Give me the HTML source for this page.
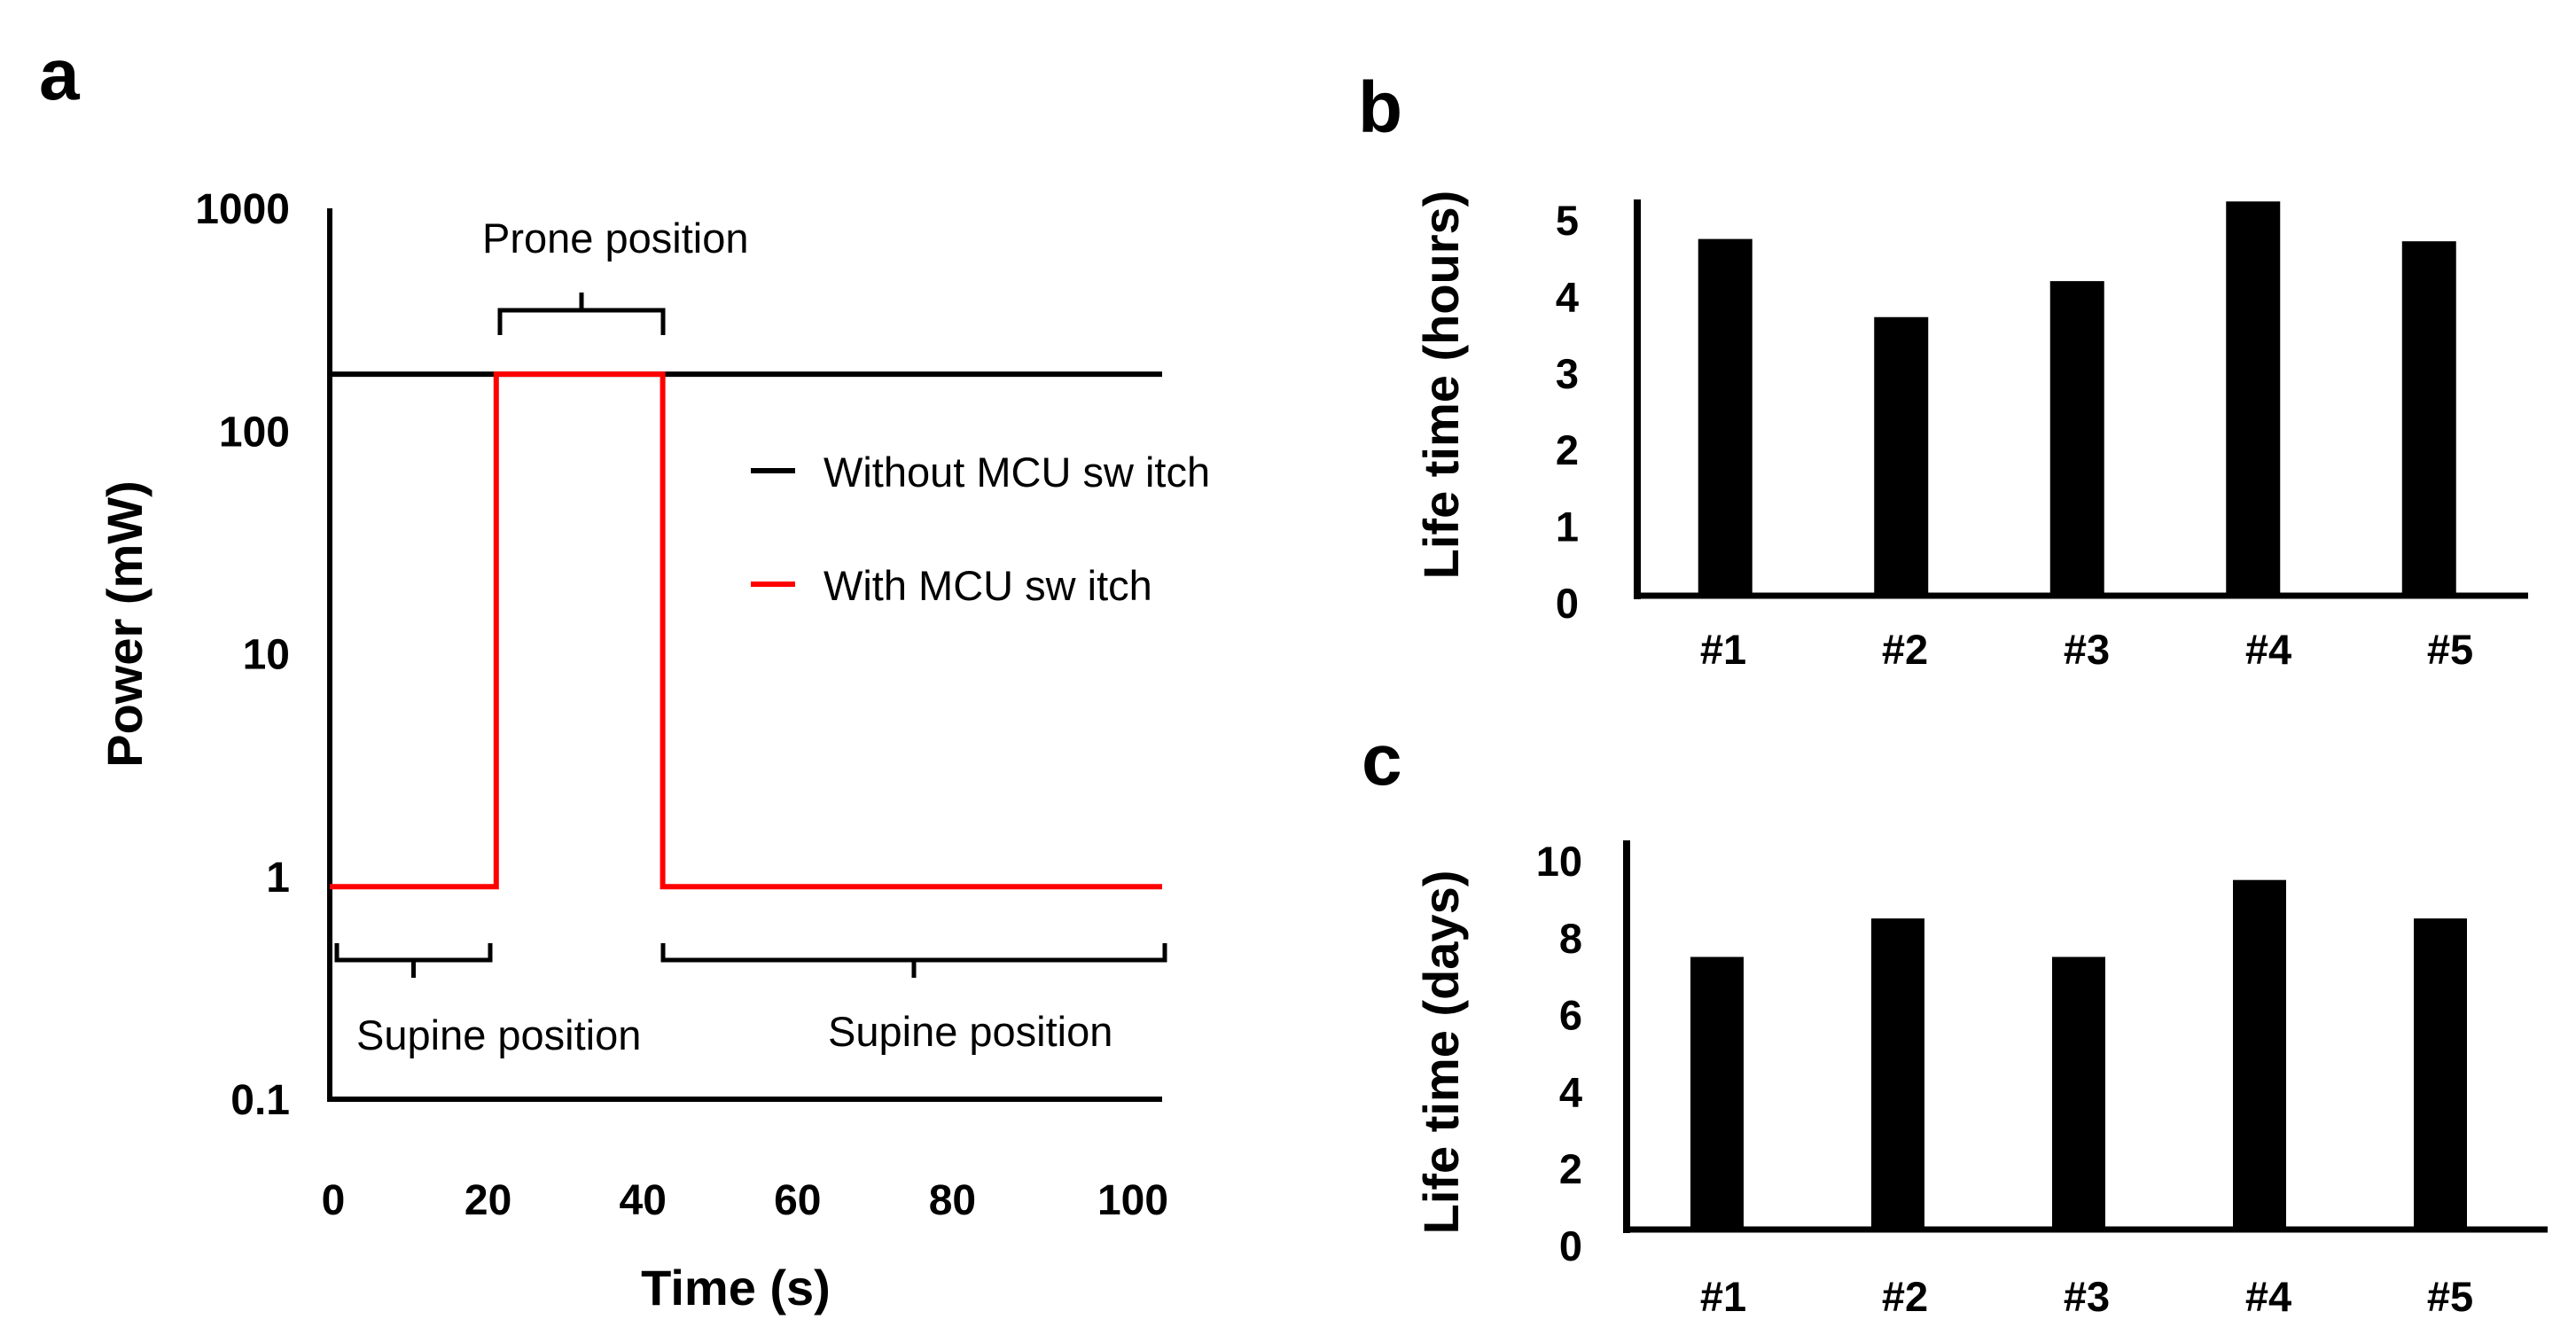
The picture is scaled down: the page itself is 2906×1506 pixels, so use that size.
<!DOCTYPE html>
<html><head><meta charset="utf-8"><style>
html,body{margin:0;padding:0;background:#fff}
svg{display:block;font-family:"Liberation Sans",Arial,sans-serif}
</style></head><body>
<svg id="fig" width="2906" height="1506" viewBox="0 0 2906 1506" xmlns="http://www.w3.org/2000/svg">
<rect width="2906" height="1506" fill="#fff"/>
<text x="44" y="112" font-size="82" font-weight="bold">a</text>
<text x="1532" y="149" font-size="82" font-weight="bold">b</text>
<text x="1536" y="885" font-size="82" font-weight="bold">c</text>
<g id="pa"></g>
<g id="pb"></g>
<g id="pc"></g>
</svg>
<script>
// Panel a data
const aTimeTicks = [0, 20, 40, 60, 80, 100];
const aPowerTicks = [1000, 100, 10, 1, 0.1];
const aPowerTickLabels = ["1000", "100", "10", "1", "0.1"];
const aWithoutTime = [0, 100];
const aWithoutPower = [180, 180];
const aWithTime = [0, 20, 20, 40, 40, 100];
const aWithPower = [0.9, 0.9, 180, 180, 0.9, 0.9];
// Panel b data
const bCategories = ["#1", "#2", "#3", "#4", "#5"];
const bValues = [4.75, 3.73, 4.2, 5.24, 4.72];
const bTicks = [0, 1, 2, 3, 4, 5];
// Panel c data
const cCategories = ["#1", "#2", "#3", "#4", "#5"];
const cValues = [7.5, 8.5, 7.5, 9.5, 8.5];
const cTicks = [0, 2, 4, 6, 8, 10];

const NS = "http://www.w3.org/2000/svg";
function mk(parent, tag, attrs, text) {
  const e = document.createElementNS(NS, tag);
  for (const k in attrs) e.setAttribute(k, attrs[k]);
  if (text !== undefined) e.textContent = text;
  parent.appendChild(e);
  return e;
}

// ---------- Panel a ----------
const pa = document.getElementById('pa');
const ax0 = 372, ax1 = 1311, ayTop = 235, ayBot = 1240;
const xA = t => ax0 + (t - 0) / 100 * (ax1 - ax0);
const yA = p => ayTop + (3 - Math.log10(p)) / 4 * (ayBot - ayTop);
const xLabA = t => t === 100 ? 1278 : 376 + t * 8.73;

let e;
e = mk(pa, 'line', {x1: ax0, y1: ayTop, x2: ax0, y2: ayBot + 3, stroke: '#000', 'stroke-width': 6});


e = mk(pa, 'line', {x1: ax0 - 3, y1: ayBot, x2: ax1, y2: ayBot, stroke: '#000', 'stroke-width': 6});



aPowerTicks.forEach((p, i) => {
  e = mk(pa, 'text', {x: 327, y: yA(p) + 17, 'font-size': 48, 'font-weight': 'bold', 'text-anchor': 'end'}, aPowerTickLabels[i]);
  
  
});
aTimeTicks.forEach(t => {
  e = mk(pa, 'text', {x: xLabA(t), y: 1370, 'font-size': 48, 'font-weight': 'bold', 'text-anchor': 'middle'}, String(t));
  
  
});

function linePts(ts, ps) { return ts.map((t, i) => xA(t) + ',' + yA(ps[i])).join(' '); }
e = mk(pa, 'polyline', {points: linePts(aWithoutTime, aWithoutPower), fill: 'none', stroke: '#000', 'stroke-width': 6});


e = mk(pa, 'polyline', {points: linePts(aWithTime, aWithPower), fill: 'none', stroke: '#ff0000', 'stroke-width': 6, 'stroke-linejoin': 'miter'});



e = mk(pa, 'text', {x: 140, y: 704, 'font-size': 56, 'font-weight': 'bold', 'text-anchor': 'middle', transform: 'rotate(-90 140 704)', dy: 20}, 'Power (mW)');


e = mk(pa, 'text', {x: 830, y: 1472, 'font-size': 56, 'font-weight': 'bold', 'text-anchor': 'middle'}, 'Time (s)');



// legend
e = mk(pa, 'line', {x1: 847, y1: 531, x2: 897, y2: 531, stroke: '#000', 'stroke-width': 6});


e = mk(pa, 'text', {x: 929, y: 549, 'font-size': 47}, 'Without MCU  sw itch');


e = mk(pa, 'line', {x1: 847, y1: 659, x2: 897, y2: 659, stroke: '#ff0000', 'stroke-width': 6});


e = mk(pa, 'text', {x: 929, y: 677, 'font-size': 47}, 'With MCU  sw itch');



// braces
function brace(x1, x2, yEnd, yBar, yTip, name) {
  const m = (x1 + x2) / 2;
  const d = `M${x1},${yEnd} L${x1},${yBar} L${x2},${yBar} L${x2},${yEnd} M${m},${yBar} L${m},${yTip}`;
  const b = mk(pa, 'path', {d: d, fill: 'none', stroke: '#000', 'stroke-width': 5});
  
  
}
brace(564, 748, 378, 350, 330, 'prone-brace');
brace(380, 553, 1064, 1083, 1103, 'supine-brace-1');
brace(748, 1314, 1064, 1083, 1103, 'supine-brace-2');
e = mk(pa, 'text', {x: 544, y: 285, 'font-size': 47}, 'Prone position');


e = mk(pa, 'text', {x: 402, y: 1184, 'font-size': 47}, 'Supine position');


e = mk(pa, 'text', {x: 934, y: 1180, 'font-size': 47}, 'Supine position');



// ---------- Bar panels ----------
function barPanel(g, cats, vals, ticks, cfg) {
  const y = v => cfg.zero - v * cfg.unit;
  const xc = i => cfg.x0 + cfg.cw * (i + 0.5);
  const xl = i => 1944 + 205 * i;
  let el = mk(g, 'line', {x1: cfg.x0, y1: cfg.top, x2: cfg.x0, y2: cfg.axisY + 4, stroke: '#000', 'stroke-width': 8});
  
  
  vals.forEach((v, i) => {
    const r = mk(g, 'rect', {x: xc(i) - cfg.bw / 2, y: y(v), width: cfg.bw, height: cfg.axisY - y(v), fill: '#000'});
    
    
  });
  el = mk(g, 'line', {x1: cfg.x0 - 4, y1: cfg.axisY, x2: cfg.xEnd, y2: cfg.axisY, stroke: '#000', 'stroke-width': 7});
  
  
  ticks.forEach(t => {
    const tl = mk(g, 'text', {x: cfg.labX, y: y(t) + 17, 'font-size': 47, 'font-weight': 'bold', 'text-anchor': 'end'}, String(t));
    
    
  });
  cats.forEach((c, i) => {
    const cl = mk(g, 'text', {x: xl(i), y: cfg.catY, 'font-size': 47, 'font-weight': 'bold', 'text-anchor': 'middle'}, c);
    
    
  });
  el = mk(g, 'text', {x: 1625, y: cfg.titleY, 'font-size': 56, 'font-weight': 'bold', 'text-anchor': 'middle', dy: 20, transform: `rotate(-90 1625 ${cfg.titleY})`}, cfg.title);
  
  
}
barPanel(document.getElementById('pb'), bCategories, bValues, bTicks,
  {p: 'b', x0: 1847, cw: 198.5, bw: 61, top: 225, axisY: 672, zero: 680, unit: 86.4, xEnd: 2852, labX: 1781, catY: 749, titleY: 434, title: 'Life time (hours)'});
barPanel(document.getElementById('pc'), cCategories, cValues, cTicks,
  {p: 'c', x0: 1835, cw: 204, bw: 60, top: 948, axisY: 1387, zero: 1405, unit: 43.4, xEnd: 2874, labX: 1785, catY: 1479, titleY: 1187, title: 'Life time (days)'});
</script>
</body></html>
